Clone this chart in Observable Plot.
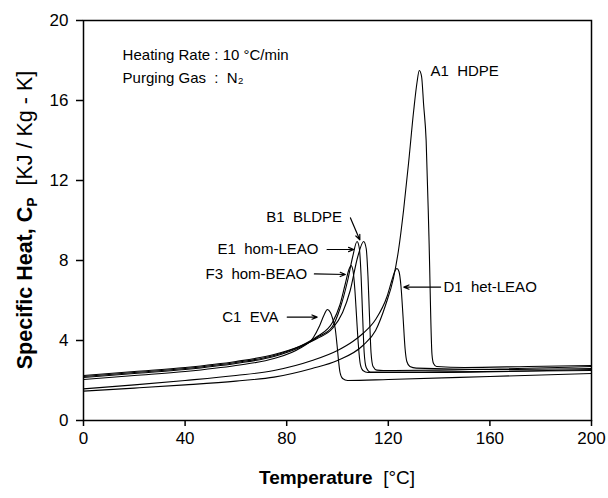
<!DOCTYPE html>
<html>
<head>
<meta charset="utf-8">
<script src="https://cdn.jsdelivr.net/npm/d3@7"></script>
<script src="https://cdn.jsdelivr.net/npm/@observablehq/plot@0.6"></script>
<style>
  body { margin: 0; background: #fff; }
  svg text { white-space: pre; }
</style>
</head>
<body>
<div id="chart"></div>
<script>
// ---- axis ticks ----
const xTicks = [0, 40, 80, 120, 160, 200];
const yTicks = [0, 4, 8, 12, 16, 20];

// ---- series (Temperature °C, Specific heat KJ/Kg-K) ----
const A1_T  = [0, 20, 40, 60, 75, 90, 100, 110, 115, 119, 122, 124, 126, 128, 130, 131.3, 132.2, 133.1, 133.9, 134.9, 136, 137.2, 137.8, 139, 150, 175, 200];
const A1_Cp = [1.47, 1.62, 1.78, 1.97, 2.17, 2.6, 3.0, 3.75, 4.5, 5.8, 7.1, 8.5, 10.5, 12.9, 15.5, 16.9, 17.5, 17.2, 15.8, 14.0, 9.2, 3.3, 2.85, 2.7, 2.65, 2.7, 2.75];

const B1_T  = [0, 20, 40, 60, 75, 85, 92, 98, 102, 105, 108, 110.3, 111.3, 112, 112.6, 113.2, 114, 115.5, 118, 140, 200];
const B1_Cp = [2.25, 2.45, 2.65, 2.95, 3.3, 3.7, 4.1, 4.6, 5.4, 6.5, 8.2, 8.95, 8.6, 7.2, 5.2, 3.4, 2.7, 2.52, 2.5, 2.52, 2.7];

const C1_T  = [0, 20, 40, 60, 75, 85, 90.5, 93, 94.8, 96, 97.2, 98.3, 99.1, 99.8, 100.4, 101, 102, 104, 120, 160, 200];
const C1_Cp = [2.05, 2.25, 2.45, 2.75, 3.1, 3.6, 4.15, 4.75, 5.3, 5.55, 5.4, 5.0, 4.6, 3.8, 3.0, 2.4, 2.1, 2.0, 2.05, 2.2, 2.35];

const D1_T  = [0, 20, 40, 60, 75, 90, 100, 106, 110, 115, 119.5, 121.5, 122.7, 123.4, 124.2, 125, 125.8, 126.6, 127.3, 128.5, 131, 160, 200];
const D1_Cp = [1.58, 1.78, 2.0, 2.25, 2.5, 3.0, 3.5, 3.95, 4.35, 5.05, 6.2, 7.05, 7.5, 7.6, 7.45, 6.7, 5.2, 3.6, 2.95, 2.7, 2.62, 2.55, 2.6];

const E1_T  = [0, 20, 40, 60, 75, 85, 92, 98, 101, 104, 106, 107.7, 108.6, 109.3, 109.9, 110.5, 111.3, 113, 130, 200];
const E1_Cp = [2.15, 2.35, 2.55, 2.85, 3.2, 3.65, 4.15, 4.7, 5.6, 7.0, 8.2, 8.95, 8.6, 7.2, 5.2, 3.4, 2.65, 2.42, 2.42, 2.5];

const F3_T  = [0, 20, 40, 60, 75, 85, 92, 98, 101, 103, 104.5, 105.3, 106.1, 106.8, 107.5, 108.2, 109, 110, 112, 130, 200];
const F3_Cp = [2.2, 2.4, 2.6, 2.9, 3.25, 3.7, 4.2, 4.9, 5.8, 6.8, 7.55, 7.75, 7.5, 6.6, 5.2, 3.8, 2.8, 2.5, 2.4, 2.4, 2.55];

// ---- curve labels ----
const labelText   = ["A1  HDPE", "B1  BLDPE", "E1  hom-LEAO", "F3  hom-BEAO", "C1  EVA", "D1  het-LEAO"];
const labelT      = [136.6, 101.8, 92.5, 88.1, 76.8, 141.7];
const labelCp     = [17.45, 10.17, 8.55, 7.33, 5.17, 6.67];
const labelAnchor = ["start", "end", "end", "end", "end", "start"];

// ---- arrows (from label to peak) ----
const arrowT1  = [105.1, 95.9, 90.9, 80.2, 140.6];
const arrowCp1 = [10.13, 8.55, 7.33, 5.17, 6.67];
const arrowT2  = [108.8, 106.4, 103.1, 92.0, 126.1];
const arrowCp2 = [9.03, 8.55, 7.30, 5.17, 6.67];

// ---- condition notes ----
const noteText = ["Heating Rate : 10 °C/min", "Purging Gas  :  N\u2082"];
const noteT    = [15.4, 15.4];
const noteCp   = [18.25, 17.1];

// build tables
const series = [
  ["A1", A1_T, A1_Cp], ["B1", B1_T, B1_Cp], ["C1", C1_T, C1_Cp],
  ["D1", D1_T, D1_Cp], ["E1", E1_T, E1_Cp], ["F3", F3_T, F3_Cp]
];
const rows = series.flatMap(([s, T, C]) => T.map((t, i) => ({s, T: t, Cp: C[i]})));
const labels = labelText.map((t, i) => ({text: t, T: labelT[i], Cp: labelCp[i], anchor: labelAnchor[i]}));
const arrows = arrowT1.map((t, i) => ({x1: t, y1: arrowCp1[i], x2: arrowT2[i], y2: arrowCp2[i]}));
const notes = noteText.map((t, i) => ({text: t, T: noteT[i], Cp: noteCp[i]}));

const W = 608, H = 498;
const chart = Plot.plot({
  width: W, height: H,
  marginLeft: 83, marginRight: 17, marginTop: 20, marginBottom: 78,
  style: {fontFamily: "Arial, 'Liberation Sans', Helvetica, sans-serif", fontSize: "17px", color: "black", background: "white"},
  x: {domain: [0, 200]},
  y: {domain: [0, 20]},
  marks: [
    Plot.line(rows, {x: "T", y: "Cp", z: "s", curve: "monotone-x", stroke: "black", strokeWidth: 1.1}),
    Plot.frame({stroke: "black", strokeWidth: 1.5}),
    Plot.axisX(xTicks, {tickSize: 6, tickPadding: 5, fontSize: 17, label: null, strokeWidth: 1.5}),
    Plot.axisY(yTicks, {tickSize: 7, tickPadding: 8, fontSize: 17, label: null, strokeWidth: 1.5}),
    Plot.text(labels.filter(d => d.anchor === "start"), {x: "T", y: "Cp", text: "text", textAnchor: "start", fontSize: 15, fill: "black"}),
    Plot.text(labels.filter(d => d.anchor === "end"), {x: "T", y: "Cp", text: "text", textAnchor: "end", fontSize: 15, fill: "black"}),
    Plot.arrow(arrows, {x1: "x1", y1: "y1", x2: "x2", y2: "y2", stroke: "black", strokeWidth: 1.2, headLength: 7, headAngle: 45}),
    Plot.text(notes, {x: "T", y: "Cp", text: "text", textAnchor: "start", fontSize: 15, fill: "black"})
  ]
});

const svg = d3.select(chart);
// x-axis title
const xt = svg.append("text")
  .attr("x", (83 + (W - 17)) / 2).attr("y", 484)
  .attr("text-anchor", "middle").attr("fill", "black")
  .style("font-size", "19px");
xt.append("tspan").attr("font-weight", "bold").text("Temperature");
xt.append("tspan").text("  [°C]");

// y-axis title
const yt = svg.append("text")
  .attr("transform", "translate(32,220) rotate(-90)")
  .attr("text-anchor", "middle").attr("fill", "black")
  .style("font-size", "21.5px");
yt.append("tspan").attr("font-weight", "bold").text("Specific Heat, C");
yt.append("tspan").attr("font-weight", "bold").attr("dy", 5).style("font-size", "14px").text("P");
yt.append("tspan").attr("dy", -5).text("  [KJ / Kg - K]");

document.getElementById("chart").appendChild(chart);
</script>
</body>
</html>
